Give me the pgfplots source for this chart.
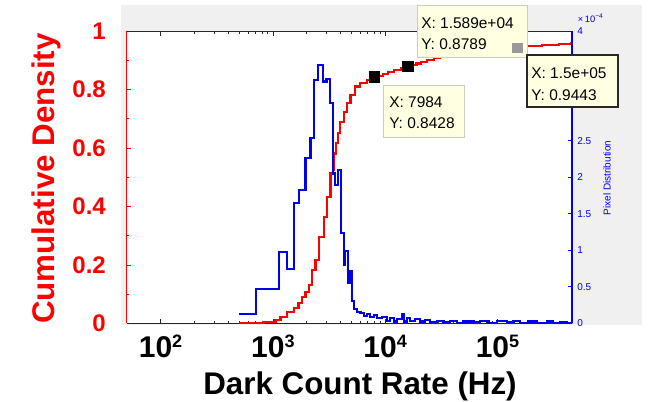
\documentclass[border=0pt]{standalone}
\usepackage{fontspec}
\setmainfont{Liberation Sans}
\usepackage{pgfplots}
\pgfplotsset{compat=1.18}

\definecolor{cdfred}{RGB}{255,0,0}
\definecolor{histblue}{RGB}{0,0,235}
\definecolor{figgray}{RGB}{240,240,240}
\definecolor{tipfill}{RGB}{255,255,225}
\definecolor{tipedge}{RGB}{205,205,195}
\definecolor{spine}{RGB}{40,40,40}

\begin{document}
\begin{tikzpicture}[x=0.75pt,y=0.75pt]
\path[use as bounding box] (0,0) rectangle (649,401);
% figure background
\fill[figgray] (121,76) rectangle (642,396);

% ---------- left axis: cumulative density ----------
\begin{axis}[
  at={(95.03pt,58.28pt)}, anchor=south west,
  scale only axis, width=334.2pt, height=219.2pt,
  xmode=log, xmin=50, xmax=4.64e5,
  ymin=0, ymax=1,
  axis background/.style={fill=white},
  axis x line*=box, axis y line*=left,
  axis line style={-},
  x axis line style={draw=spine, line width=0.5pt},
  y axis line style={draw=cdfred, line width=0.75pt},
  tick align=inside,
  major tick length=3.4pt, minor tick length=2pt,
  xtick style={draw=spine, line width=0.4pt},
  ytick style={draw=cdfred, line width=0.5pt},
  xtick={1e2,1e3,1e4,1e5},
  xticklabels={
    {10\raisebox{7.5pt}{\fontsize{13.5}{13.5}\selectfont 2}},
    {10\raisebox{7.5pt}{\fontsize{13.5}{13.5}\selectfont 3}},
    {10\raisebox{7.5pt}{\fontsize{13.5}{13.5}\selectfont 4}},
    {10\raisebox{7.5pt}{\fontsize{13.5}{13.5}\selectfont 5}}},
  xticklabel style={font=\fontsize{22.5}{22.5}\selectfont\bfseries,
    anchor=base, inner sep=0pt, yshift=-26pt},
  ytick={0,0.2,0.4,0.6,0.8,1},
  minor ytick={0.1,0.3,0.5,0.7,0.9},
  yticklabels={0,0.2,0.4,0.6,0.8,1},
  yticklabel style={font=\fontsize{18}{18}\selectfont\bfseries,
    text=cdfred, anchor=east, inner sep=0pt, xshift=-15.5pt},
  xlabel={Dark Count Rate (Hz)},
  every axis x label/.style={at={(axis description cs:0.5236,-0.2453)},
    anchor=base, font=\fontsize{23.5}{23.5}\selectfont\bfseries},
  ylabel={Cumulative Density},
  every axis y label/.style={at={(axis description cs:-0.161,0.4954)},
    rotate=90, anchor=base, text=cdfred,
    font=\fontsize{23.5}{23.5}\selectfont\bfseries},
]
% empirical CDF of the dark count rate
\addplot[const plot, cdfred, line width=1.6pt] coordinates {
  (499,0) (826,0.005) (1057,0.011) (1171,0.023) (1343,0.040)
  (1537,0.051) (1692,0.069) (1824,0.091) (1953,0.108) (2090,0.131)
  (2240,0.182) (2398,0.216) (2566,0.296) (2838,0.365) (3045,0.433)
  (3258,0.513) (3415,0.524) (3484,0.581) (3681,0.616) (3811,0.650)
  (3997,0.690) (4277,0.724) (4583,0.753) (4908,0.781) (5435,0.810)
  (6020,0.821) (6909,0.832) (7984,0.8428) (8700,0.847) (9500,0.852)
  (10600,0.859) (11910,0.866) (13800,0.873) (15890,0.8789) (17300,0.884)
  (19000,0.889) (21000,0.895) (23540,0.901) (27000,0.907) (30970,0.912)
  (35000,0.917) (40000,0.922) (47000,0.926) (55000,0.930) (65000,0.933)
  (75000,0.936) (87000,0.938) (100000,0.940) (120000,0.942) (150000,0.9443)
  (182000,0.950) (250000,0.952) (350000,0.955) (450000,0.958) (464000,1.0)
};
% data cursors
\addplot[only marks, mark=square*, mark size=4pt,
  mark options={fill=black, draw=black}] coordinates {
  (7984,0.8428) (15890,0.8789)
};
\end{axis}

% ---------- right axis: pixel distribution ----------
\begin{axis}[
  at={(95.03pt,58.28pt)}, anchor=south west,
  scale only axis, width=334.2pt, height=219.2pt,
  xmode=log, xmin=50, xmax=4.64e5,
  ymin=0, ymax=4e-4,
  axis x line=none, axis y line*=right,
  axis line style={-},
  y axis line style={draw=histblue, line width=1.3pt},
  tick align=inside, major tick length=3.4pt,
  ytick style={draw=histblue, line width=0.6pt},
  ytick={0,0.5e-4,1e-4,1.5e-4,2e-4,2.5e-4,4e-4},
  extra y ticks={3e-4,3.5e-4}, extra y tick labels={},
  scaled y ticks=base 10:4,
  /pgf/number format/assume math mode=true,
  yticklabel style={font=\fontsize{7.5}{7.5}\selectfont, text=histblue,
    anchor=west, inner sep=0pt, xshift=3.5pt},
  ytick scale label code/.code={×\,10\textsuperscript{−4}},
  every y tick scale label/.style={at={(rel axis cs:1,1)}, anchor=south west,
    inner sep=0pt, yshift=6pt, xshift=0.5pt, text=histblue,
    font=\fontsize{7}{7}\selectfont},
  ylabel={Pixel Distribution},
  every axis y label/.style={at={(axis description cs:1.078,0.497)},
    rotate=90, anchor=center, text=histblue,
    font=\fontsize{7.5}{7.5}\selectfont},
]
% per-pixel distribution of the dark count rate
\addplot[const plot, histblue, line width=1.6pt] coordinates {
  (499,1.27e-5) (702,4.69e-5) (1131,9.8e-5) (1343,7.43e-5) (1537,1.642e-4)
  (1702,1.824e-4) (1954,2.258e-4) (2163,2.532e-4) (2320,3.33e-4) (2512,3.54e-4)
  (2806,3.31e-4) (3001,3.34e-4) (3213,3.01e-4) (3443,2.05e-4) (3608,1.89e-4)
  (3783,2.10e-4) (4054,1.23e-4) (4277,8.0e-5) (4429,9.9e-5) (4659,5.5e-5)
  (4907,7.2e-5) (5108,3.0e-5) (5320,1.9e-5) (5600,1.6e-5) (6025,1.37e-5)
  (6446,1.0e-5) (6905,1.27e-5) (7386,9.0e-6) (7903,1.14e-5) (8465,6.8e-6)
  (9385,9.0e-6) (10400,3.6e-6) (11120,6.8e-6) (11900,2.5e-6) (12750,5.7e-6)
  (14130,1.27e-5) (14600,2.5e-6) (15650,6.8e-6) (16750,3.6e-6) (18550,5.7e-6)
  (20540,2.5e-6) (22760,4.6e-6) (25210,2.0e-6) (28920,3.6e-6) (33100,1.5e-6)
  (38000,3.0e-6) (43570,1.0e-6) (49900,2.5e-6) (61200,1.5e-6) (70200,3.0e-6)
  (83200,1.0e-6) (98800,2.7e-6) (121300,1.5e-6) (138800,3.0e-6) (159200,1.0e-6)
  (188700,2.5e-6) (224000,1.0e-6) (274800,2.5e-6) (314600,1.0e-6) (360600,2.0e-6)
  (413900,1.0e-6) (464000,2.33e-4)
};
\end{axis}

% data tip boxes
\begin{scope}[font=\fontsize{11.6}{11.6}\selectfont]
  \filldraw[fill=tipfill, draw=tipedge, line width=0.6pt] (383,264) rectangle (464,316);
  \node[anchor=base west, inner sep=0pt] at (389,294) {X: 7984};
  \node[anchor=base west, inner sep=0pt] at (389,273) {Y: 0.8428};
  \filldraw[fill=tipfill, draw=tipedge, line width=0.6pt] (417,344) rectangle (527,396);
  \node[anchor=base west, inner sep=0pt] at (421,373) {X: 1.589e+04};
  \node[anchor=base west, inner sep=0pt] at (421,352) {Y: 0.8789};
  \filldraw[fill=tipfill, draw=spine, line width=1.1pt] (527,294) rectangle (618,346);
  \node[anchor=base west, inner sep=0pt] at (531,323) {X: 1.5e+05};
  \node[anchor=base west, inner sep=0pt] at (531,301) {Y: 0.9443};
\end{scope}

% active data cursor, drawn above the tip boxes
\begin{axis}[
  at={(95.03pt,58.28pt)}, anchor=south west,
  scale only axis, width=334.2pt, height=219.2pt,
  xmode=log, xmin=50, xmax=4.64e5,
  ymin=0, ymax=1, hide axis, clip=false]
\addplot[only marks, mark=square*, mark size=3.4pt,
  mark options={fill=black!40, draw=black!40}] coordinates {
  (150000,0.9443)
};
\end{axis}
\end{tikzpicture}
\end{document}
